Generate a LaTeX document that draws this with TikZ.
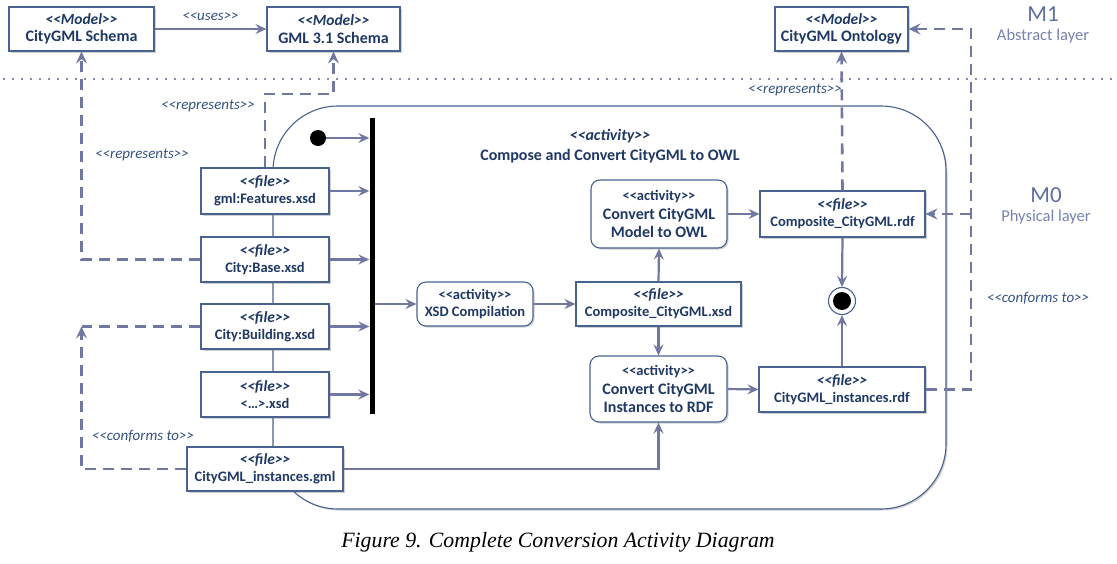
\documentclass[tikz,border=0pt]{standalone}
\usepackage{fontspec}
\setmainfont{Carlito}[Ligatures=TeXOff]
\newfontfamily\capfont{Liberation Serif}
\usetikzlibrary{arrows.meta,shadows,calc}
\definecolor{lineC}{RGB}{112,119,160}
\definecolor{boxC}{RGB}{72,99,143}
\definecolor{txtC}{RGB}{31,56,100}
\definecolor{lblC}{RGB}{52,82,130}
\definecolor{layC}{RGB}{120,130,175}
\definecolor{layD}{RGB}{95,110,160}
\tikzset{
  box/.style={draw=boxC, line width=1.1pt, fill=white, text=txtC,
    font=\bfseries\fontsize{14.5}{17}\selectfont, align=center, inner sep=0pt,
    drop shadow={shadow xshift=1.5pt, shadow yshift=-1.5pt, opacity=0.3, fill=black!60}},
  bigbox/.style={box, font=\bfseries\fontsize{16}{17.5}\selectfont},
  actbox/.style={box, rounded corners=9pt},
  conn/.style={draw=lineC, line width=2.2pt, -{Stealth[length=11pt,width=10pt,inset=4pt]}},
  dep/.style={draw=lineC, line width=2.6pt, dash pattern=on 11pt off 7pt},
  deparr/.style={dep, -{Stealth[length=12pt,width=11pt,inset=4.5pt]}},
  lbl/.style={text=lblC, font=\itshape\fontsize{15}{17}\selectfont, inner sep=0pt},
}
\newcommand{\st}[1]{{\itshape\fontsize{15.5}{17}\selectfont #1}\\}
\newcommand{\actst}{{\fontsize{14.5}{17}\selectfont<<activity>>}\\}
\begin{document}
\begin{tikzpicture}[x=1pt,y=-1pt]
\useasboundingbox (0,0) rectangle (1117,563);
% layer separator
\draw[lineC!85, line width=2pt, dash pattern=on 2pt off 7pt] (3,79) -- (1117,79);
\node[text=layD, font=\fontsize{23}{25}\selectfont] (m1) at (1043,14) {M1};
\node[text=layC, font=\fontsize{16.5}{18}\selectfont] (m1l) at (1043,36) {Abstract layer};
\node[text=layD, font=\fontsize{23}{25}\selectfont] (m0) at (1046,195) {M0};
\node[text=layC, font=\fontsize{16.5}{18}\selectfont] (m0l) at (1046,217) {Physical layer};
% activity container
\draw[draw=boxC, line width=1.1pt, rounded corners=65pt,
  drop shadow={shadow xshift=1.5pt, shadow yshift=-1.5pt, opacity=0.3, fill=black!60}, fill=white]
  (273,106) rectangle (946,509);
\node[text=txtC, font=\bfseries\fontsize{16}{20}\selectfont, align=center] (title) at (610,146)
  {\textit{<<activity>>}\\Compose and Convert CityGML to OWL};
% M1 models
\node[bigbox, minimum width=145, minimum height=44] (cgs) at (81.5,29) {\st{<<Model>>}CityGML Schema};
\node[bigbox, minimum width=133, minimum height=44] (gml) at (333.5,29) {\st{<<Model>>}GML 3.1 Schema};
\node[bigbox, minimum width=133, minimum height=44] (onto) at (841.5,29) {\st{<<Model>>}CityGML Ontology};
% files
\node[box, minimum width=128, minimum height=46] (feat) at (265,191) {\st{<<file>>}gml:Features.xsd};
\node[box, minimum width=128, minimum height=45] (base) at (265,259.5) {\st{<<file>>}City:Base.xsd};
\node[box, minimum width=128, minimum height=45] (bldg) at (265,326.5) {\st{<<file>>}City:Building.xsd};
\node[box, minimum width=128, minimum height=45] (etc) at (265,394.5) {\st{<<file>>}<…>.xsd};
\node[box, minimum width=156, minimum height=44] (inst) at (265,469) {\st{<<file>>}CityGML\_instances.gml};
% control nodes
\node[circle, fill=black, minimum size=16, inner sep=0pt] (init) at (318,138) {};
\node[fill=black, minimum width=5, minimum height=296, inner sep=0pt] (bar) at (372,266) {};
\node[circle, draw=boxC, line width=1.1pt, fill=white, minimum size=27, inner sep=0pt] (fin) at (842,301) {};
\node[circle, fill=black, minimum size=18, inner sep=0pt] (finin) at (842,301) {};
% activities and products
\node[actbox, minimum width=116, minimum height=44] (xsdc) at (475,304) {\actst XSD Compilation};
\node[box, minimum width=165, minimum height=44] (cxsd) at (658.5,304) {\st{<<file>>}Composite\_CityGML.xsd};
\node[actbox, font=\bfseries\fontsize{16}{18.5}\selectfont, minimum width=136, minimum height=68] (cmod) at (659,214) {\actst Convert CityGML\\Model to OWL};
\node[actbox, font=\bfseries\fontsize{16}{18.5}\selectfont, minimum width=137, minimum height=66] (cins) at (658.5,389) {\actst Convert CityGML\\Instances to RDF};
\node[box, minimum width=165, minimum height=46] (crdf) at (842.5,214) {\st{<<file>>}Composite\_CityGML.rdf};
\node[box, minimum width=166, minimum height=45] (irdf) at (842,389.5) {\st{<<file>>}CityGML\_instances.rdf};
% flow connectors
\draw[conn] (init.east) -- (init.east -| bar.west);
\draw[conn] (feat.east) -- (feat.east -| bar.west);
\draw[conn] (base.east) -- (base.east -| bar.west);
\draw[conn] (bldg.east) -- (bldg.east -| bar.west);
\draw[conn] (etc.east) -- (etc.east -| bar.west);
\draw[conn] (xsdc.west -| bar.east) -- (xsdc.west);
\draw[conn] (xsdc.east) -- (cxsd.west);
\draw[conn] (cxsd.north) -- (cmod.south);
\draw[conn] (cxsd.south) -- (cins.north);
\draw[conn] (cmod.east) -- (crdf.west);
\draw[conn] (cins.east) -- (irdf.west);
\draw[conn] (crdf.south) -- (fin.north);
\draw[conn] (irdf.north) -- (fin.south);
\draw[conn] (inst.east) -| (cins.south);
% uses
\draw[conn] (cgs.east) -- (gml.west) node[lbl, midway, above=7pt] {<<uses>>};
% dependencies
\coordinate (r1) at (265,94);
\coordinate (r2) at (971,389.5);
\coordinate (r3) at (971,29);
\draw[deparr] (feat.north) -- (r1) -| (gml.south);
\draw[deparr] (base.west) -| (cgs.south);
\draw[dep] (bldg.west) -- (bldg.west -| cgs.south);
\draw[deparr] (inst.west) -| (bldg.west -| cgs.south);
\draw[deparr] (crdf.north) -- (onto.south);
\draw[deparr] (irdf.east) -- (r2) -- (r3) -- (onto.east);
\draw[deparr] (crdf.east -| r2) -- (crdf.east);
% labels
\node[lbl] (l1) at (208,106) {<<represents>>};
\node[lbl] (l2) at (142,155) {<<represents>>};
\node[lbl] (l3) at (143,436) {<<conforms to>>};
\node[lbl] (l4) at (795,90) {<<represents>>};
\node[lbl] (l5) at (1038,298) {<<conforms to>>};
% caption
\node[font=\capfont\itshape\fontsize{21.8}{24}\selectfont] (cap) at (558,542) {Figure 9. Complete Conversion Activity Diagram};
\end{tikzpicture}
\end{document}
